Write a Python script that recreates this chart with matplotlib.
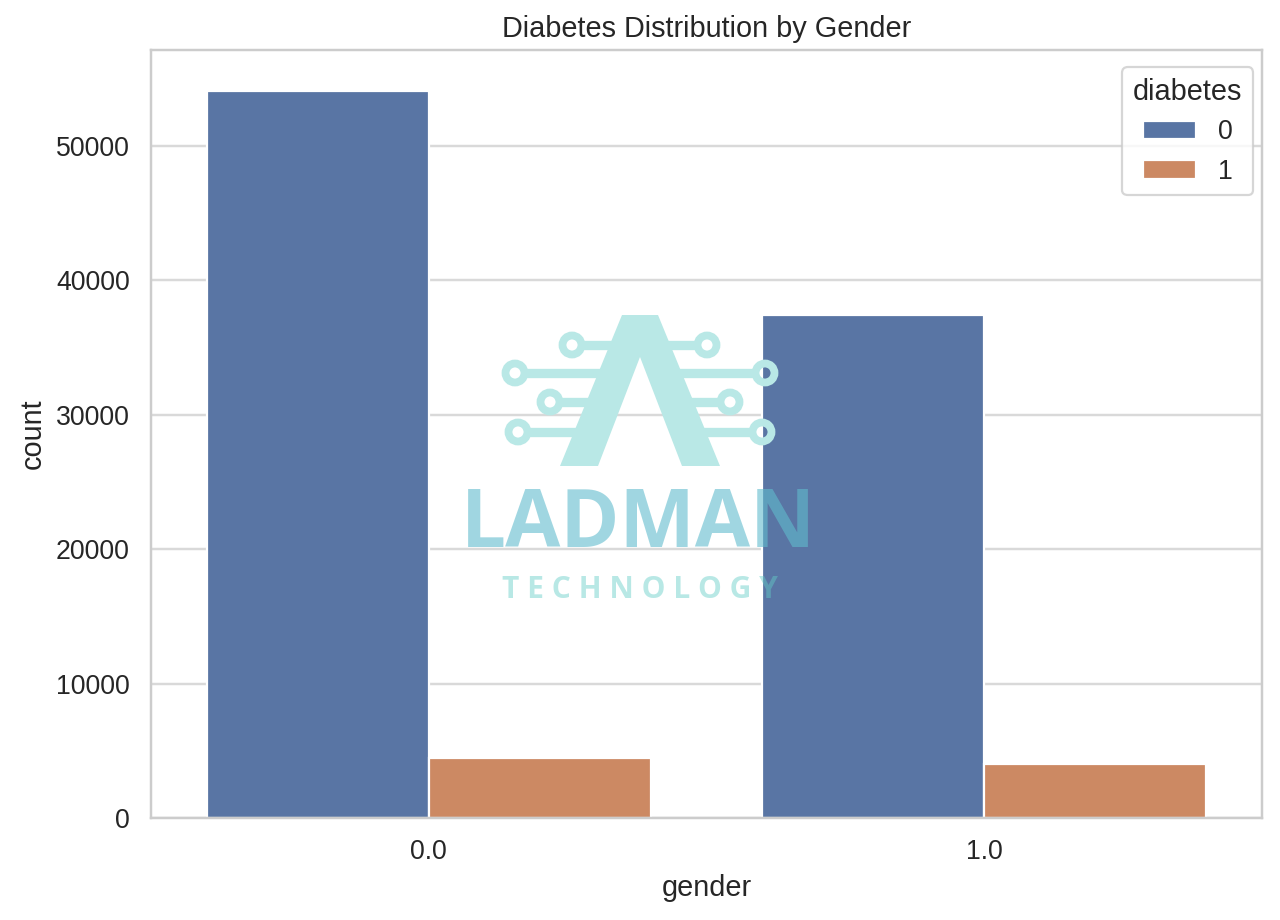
import matplotlib
matplotlib.use("Agg")
import matplotlib.pyplot as plt
import numpy as np
import seaborn as sns
from matplotlib.patches import Polygon, Ellipse
from matplotlib.lines import Line2D

genders = ["0.0", "1.0"]
diabetes_levels = ["0", "1"]
counts_diabetes0 = [54091, 37391]
counts_diabetes1 = [4461, 4039]
bar_colors = ["#5975A4", "#CC8963"]

sns.set_theme(style="whitegrid")
plt.rcParams['font.family'] = ['Liberation Sans', 'DejaVu Sans']

fig = plt.figure(figsize=(8, 5.75), dpi=160)
ax = fig.add_axes([151/1280, 1 - 818/920, 1111/1280, (818-50)/920])

x = np.arange(len(genders))
w = 0.4
series = [counts_diabetes0, counts_diabetes1]
for i, (vals, col, lab) in enumerate(zip(series, bar_colors, diabetes_levels)):
    ax.bar(x - w/2 + i*w, vals, width=w, color=col, edgecolor="white",
           linewidth=1.0, label=lab, zorder=2)

ax.set_xlim(-0.5, 1.5)
ax.set_ylim(0, 57130)
ax.set_xticks(x)
ax.set_xticklabels(genders)
ax.set_yticks([0, 10000, 20000, 30000, 40000, 50000])
ax.tick_params(axis='both', labelsize=12, colors="#262626")
ax.set_xlabel("gender", fontsize=13, color="#262626")
ax.set_ylabel("count", fontsize=13, color="#262626")
ax.set_title("Diabetes Distribution by Gender", fontsize=13, color="#262626")
ax.xaxis.grid(False)
ax.yaxis.grid(True, color="#d9d9d9", linewidth=1.1)
ax.set_axisbelow(True)
for s in ax.spines.values():
    s.set_color("#cccccc")
    s.set_linewidth(1.1)

leg = ax.legend(title="diabetes", loc="upper right", fontsize=12, title_fontsize=13,
                frameon=True, bbox_to_anchor=(1.004, 0.995))
leg.get_frame().set_edgecolor("#cccccc")

# watermark (semi-transparent overlay)
def P(px, py):
    return (px/1280, 1 - py/920)

tf = fig.transFigure
wm_logo = "#b9e8e6"
outer = [P(560, 466), P(622, 315), P(658, 315), P(720, 466), P(682, 466),
         P(640, 357), P(598, 466)]
fig.patches.append(Polygon(outer, closed=True, transform=tf, facecolor=wm_logo,
                           edgecolor="none", zorder=10))
r = 9.5
left_nodes = [((572, 345), (622, 345)), ((515, 373), (612, 373)),
              ((550, 402), (602, 402)), ((518, 432), (592, 432))]
right_nodes = [((707, 345), (658, 345)), ((765, 373), (668, 373)),
               ((730, 402), (678, 402)), ((762, 432), (688, 432))]
for (c, e) in left_nodes + right_nodes:
    sgn = 1 if e[0] > c[0] else -1
    start = c[0] + sgn * r
    xs = [start/1280, e[0]/1280]
    ys = [1 - c[1]/920, 1 - e[1]/920]
    fig.lines.append(Line2D(xs, ys, transform=tf, color=wm_logo,
                            linewidth=4.2, zorder=10, solid_capstyle="butt"))
    fig.patches.append(Ellipse(P(*c), width=2*r/1280, height=2*r/920, transform=tf,
                               facecolor="none", edgecolor=wm_logo, linewidth=3.5,
                               zorder=10))

fig.text(*P(638, 526), "LADMAN", transform=tf, ha="center", va="center",
         fontsize=36, fontweight="bold", color="#61bccd", alpha=0.6,
         family=["Open Sans", "DejaVu Sans"], zorder=11)
fig.text(*P(640, 590), "T E C H N O L O G Y", transform=tf, ha="center", va="center",
         fontsize=13.5, fontweight="bold", color="#63ccc7", alpha=0.45,
         family=["Open Sans", "DejaVu Sans"], zorder=11)

fig.savefig("out.png", dpi=160)
